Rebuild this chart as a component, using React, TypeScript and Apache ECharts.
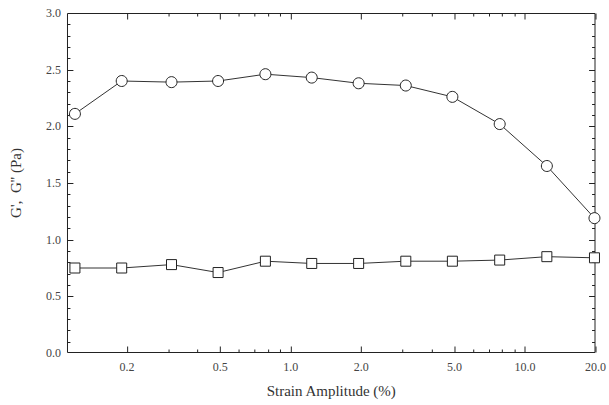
import React, { useEffect, useRef } from "react";
import * as echarts from "echarts";

// Strain amplitude (%) for each measurement
const strain = [0.12, 0.19, 0.31, 0.49, 0.78, 1.23, 1.95, 3.1, 4.9, 7.8, 12.4, 19.8];
// Storage modulus G' (Pa) - circles
const gPrime = [2.11, 2.40, 2.39, 2.40, 2.46, 2.43, 2.38, 2.36, 2.26, 2.02, 1.65, 1.19];
// Loss modulus G'' (Pa) - squares
const gDoublePrime = [0.75, 0.75, 0.78, 0.71, 0.81, 0.79, 0.79, 0.81, 0.81, 0.82, 0.85, 0.84];

// X-axis tick labels (major) and minor tick positions, in % strain
const xMajorTicks = [0.2, 0.5, 1, 2, 5, 10, 20];
const xMinorTicks = [0.3, 0.4, 0.6, 0.7, 0.8, 0.9, 3, 4, 6, 7, 8, 9];
const X_MIN = 0.111;
const X_MAX = 20;
const Y_MIN = 0;
const Y_MAX = 3;
const Y_MAJOR = 0.5;
const Y_MINOR = 0.1;

const FONT = "'Liberation Serif', 'Times New Roman', serif";

const W = 609;
const H = 405;
const GRID = { left: 62, right: 11, top: 13, bottom: 52 };
const PLOT_W = W - GRID.left - GRID.right;
const PLOT_H = H - GRID.top - GRID.bottom;

// log position of a strain value, measured from the left end of the axis
const lx = (v: number) => Math.log10(v / X_MIN);
const XR = lx(X_MAX);

export default function App() {
  const ref = useRef<HTMLDivElement>(null);
  useEffect(() => {
    if (!ref.current) return;
    const chart = echarts.init(ref.current, null, { renderer: "svg" });

    // data units per screen pixel on each axis
    const ux = XR / PLOT_W;
    const uy = (Y_MAX - Y_MIN) / PLOT_H;
    // snap to pixel centres so 1px strokes stay crisp
    const snapX = (x: number) => (Math.round(x / ux) + 0.5) * ux;
    const snapY = (y: number) => Y_MIN + (Math.round((y - Y_MIN) / uy) - 0.5) * uy;

    const x0 = 0.5 * ux;
    const x1 = XR - 0.5 * ux;
    const y0 = Y_MIN + 0.5 * uy;
    const y1 = Y_MAX - 0.5 * uy;

    const frame = [[x0, y0], [x1, y0], [x1, y1], [x0, y1], [x0, y0]];

    const ticks: any[] = [];
    const addX = (t: number, len: number) => {
      const x = snapX(lx(t));
      ticks.push([x, y0], [x, y0 + len * uy], [x, "-"]);
      ticks.push([x, y1], [x, y1 - len * uy], [x, "-"]);
    };
    xMajorTicks.forEach((t) => addX(t, 6));
    xMinorTicks.forEach((t) => addX(t, 3));
    const nY = Math.round((Y_MAX - Y_MIN) / Y_MINOR);
    const perMajor = Math.round(Y_MAJOR / Y_MINOR);
    for (let i = 1; i < nY; i++) {
      const y = snapY(Y_MIN + i * Y_MINOR);
      const len = i % perMajor === 0 ? 6 : 3;
      ticks.push([x0, y], [x0 + len * ux, y], ["-", y]);
      ticks.push([x1, y], [x1 - len * ux, y], ["-", y]);
    }

    const frameStyle = {
      type: "line",
      symbol: "none",
      silent: true,
      clip: false,
      connectNulls: false,
      z: 2,
      lineStyle: { color: "#222", width: 1 },
    };

    chart.setOption({
      animation: false,
      backgroundColor: "#fff",
      textStyle: { fontFamily: FONT },
      grid: { ...GRID, containLabel: false },
      xAxis: {
        type: "value",
        min: 0,
        max: XR,
        name: "Strain Amplitude (%)",
        nameLocation: "middle",
        nameGap: 30,
        nameTextStyle: { fontFamily: FONT, fontSize: 15, color: "#333" },
        splitLine: { show: false },
        axisLine: { show: false },
        axisTick: { show: false },
        axisLabel: {
          show: true,
          fontFamily: FONT,
          fontSize: 12,
          color: "#444",
          margin: 8,
          customValues: xMajorTicks.map(lx),
          formatter: (v: number) => (X_MIN * Math.pow(10, v)).toFixed(1),
        },
      },
      yAxis: {
        type: "value",
        min: Y_MIN,
        max: Y_MAX,
        interval: Y_MAJOR,
        name: "G',  G'' (Pa)",
        nameLocation: "middle",
        nameGap: 44,
        nameRotate: 90,
        nameTextStyle: { fontFamily: FONT, fontSize: 15, color: "#333" },
        splitLine: { show: false },
        axisLine: { show: false },
        axisTick: { show: false },
        axisLabel: {
          fontFamily: FONT,
          fontSize: 12,
          color: "#444",
          margin: 6,
          formatter: (v: number) => v.toFixed(1),
        },
      },
      series: [
        { ...frameStyle, name: "frame", data: frame },
        { ...frameStyle, name: "ticks", data: ticks },
        {
          name: "G'",
          type: "line",
          data: strain.map((s, i) => [lx(s), gPrime[i]]),
          symbol: "circle",
          symbolSize: 11,
          showAllSymbol: true,
          z: 3,
          lineStyle: { color: "#333", width: 1 },
          itemStyle: { color: "#fff", borderColor: "#222", borderWidth: 1 },
        },
        {
          name: "G''",
          type: "line",
          data: strain.map((s, i) => [lx(s), gDoublePrime[i]]),
          symbol: "rect",
          symbolSize: 10,
          showAllSymbol: true,
          z: 3,
          lineStyle: { color: "#333", width: 1 },
          itemStyle: { color: "#fff", borderColor: "#222", borderWidth: 1 },
        },
      ],
    });
    return () => chart.dispose();
  }, []);
  return (
    <div style={{ position: "absolute", left: 0, top: 0, width: W, height: H, overflow: "hidden" }}>
      <div ref={ref} style={{ width: W, height: H }} />
    </div>
  );
}
